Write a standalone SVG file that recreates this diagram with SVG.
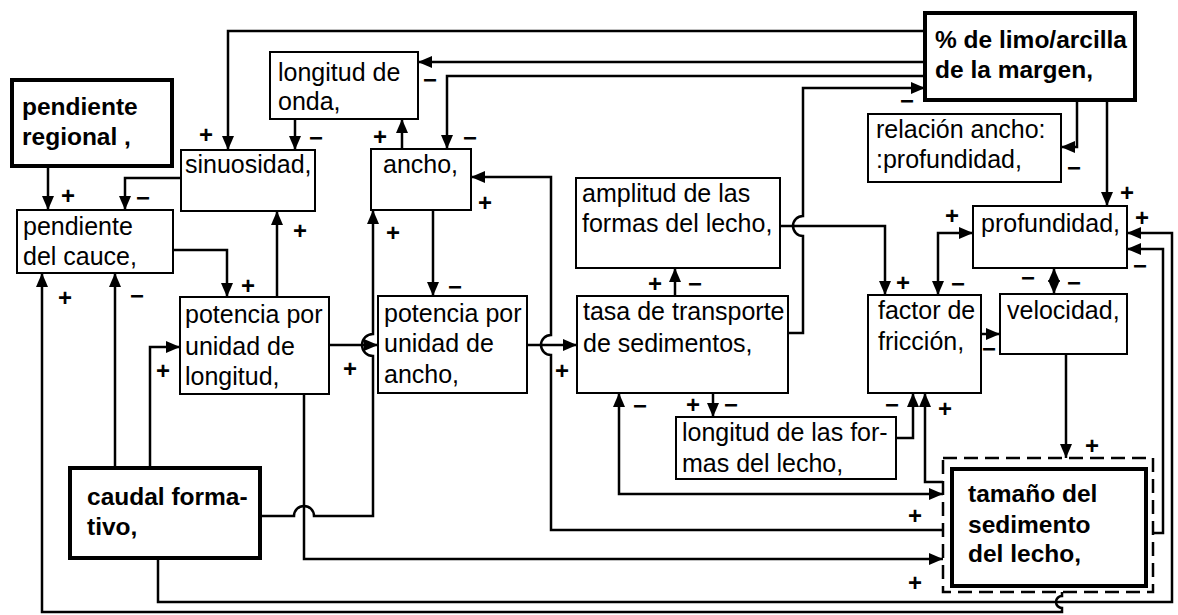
<svg xmlns="http://www.w3.org/2000/svg" width="1178" height="615" viewBox="0 0 1178 615">
<defs>
<marker id="ah" viewBox="0 0 14 12" refX="14" refY="6" markerWidth="14" markerHeight="12" markerUnits="userSpaceOnUse" orient="auto-start-reverse">
<path d="M0,0 L14,6 L0,12 z" fill="#000"/>
</marker>
<style>
.box{fill:#fff;stroke:#000;stroke-width:2}
.bold{stroke-width:4}
.dash{fill:none;stroke:#000;stroke-width:2.5;stroke-dasharray:14 7}
.t{font-family:"Liberation Sans",Arial,sans-serif;font-size:25px;fill:#000}
.tb{font-family:"Liberation Sans",Arial,sans-serif;font-size:24.5px;font-weight:bold;fill:#000}
.c{fill:none;stroke:#000;stroke-width:2.5}
.a{marker-end:url(#ah)}
.ab{marker-start:url(#ah);marker-end:url(#ah)}
.s{font-family:"Liberation Sans",Arial,sans-serif;font-size:24px;font-weight:bold;text-anchor:middle;dominant-baseline:central;fill:#000}
</style>
</defs>
<rect width="1178" height="615" fill="#fff"/>
<g id="connectors">
<path class="c a" d="M925,31 H228 V150"/>
<path class="c a" d="M925,62 H418"/>
<path class="c a" d="M925,76 H447 V149"/>
<path class="c a" d="M788,333 H803 V236 A10,10 0 0,1 803,216 V88 H925"/>
<path class="c a" d="M780,226 H885 V295"/>
<path class="c a" d="M1077,100 V147 H1061"/>
<path class="c a" d="M1107,100 V206"/>
<path class="c a" d="M48,166 V210"/>
<path class="c a" d="M181,178 H125 V210"/>
<path class="c a" d="M295,119 V150"/>
<path class="c a" d="M402,149 V119"/>
<path class="c a" d="M173,250 H227 V297"/>
<path class="c a" d="M277,297 V211"/>
<path class="c a" d="M943,530 H551 V355 A10,10 0 0,1 551,335 V177 H471"/>
<path class="c a" d="M433,210 V296"/>
<path class="c a" d="M329,345 H378"/>
<path class="c a" d="M260,516 H294 A10,10 0 0,1 314,516 H373 V356 A11,11 0 0,1 373,334 V210"/>
<path class="c a" d="M115,468 V273"/>
<path class="c a" d="M150,468 V347 H180"/>
<path class="c a" d="M304,394 V559 H943"/>
<path class="c a" d="M527,345 H577"/>
<path class="c a" d="M675,296 V268"/>
<path class="c a" d="M713,393 V417"/>
<path class="c ab" d="M619,393 V494 H943"/>
<path class="c a" d="M896,438 H913 V393"/>
<path class="c a" d="M943,482 H925 V393"/>
<path class="c a" d="M981,334 H1000"/>
<path class="c ab" d="M973,233 H938 V295"/>
<path class="c ab" d="M1054,268 V294"/>
<path class="c a" d="M1066,354 V458"/>
<path class="c a" d="M1153,533 H1163 V249 H1127"/>
<path class="c a" d="M158,558 V602 H1172 V233 H1127"/>
<path class="c a" d="M1062,592 V596 A6,6 0 0,0 1062,608 V612 H42 V273"/>
<text class="s" x="206" y="134">+</text>
<text class="s" x="316" y="137">−</text>
<text class="s" x="380" y="136">+</text>
<text class="s" x="430" y="79">−</text>
<text class="s" x="470" y="137">−</text>
<text class="s" x="485" y="202">+</text>
<text class="s" x="907" y="100">−</text>
<text class="s" x="1074" y="167">−</text>
<text class="s" x="1127" y="192">+</text>
<text class="s" x="68" y="195">+</text>
<text class="s" x="143" y="197">−</text>
<text class="s" x="65" y="297">+</text>
<text class="s" x="137" y="295">−</text>
<text class="s" x="248" y="285">+</text>
<text class="s" x="300" y="230">+</text>
<text class="s" x="163" y="370">+</text>
<text class="s" x="350" y="368">+</text>
<text class="s" x="393" y="232">+</text>
<text class="s" x="455" y="286">−</text>
<text class="s" x="562" y="370">+</text>
<text class="s" x="655" y="283">+</text>
<text class="s" x="695" y="283">−</text>
<text class="s" x="640" y="405">−</text>
<text class="s" x="693" y="404">+</text>
<text class="s" x="731" y="404">−</text>
<text class="s" x="892" y="404">−</text>
<text class="s" x="945" y="408">+</text>
<text class="s" x="903" y="282">+</text>
<text class="s" x="952" y="215">+</text>
<text class="s" x="958" y="283">−</text>
<text class="s" x="1028" y="277">−</text>
<text class="s" x="1074" y="282">−</text>
<text class="s" x="989" y="348">−</text>
<text class="s" x="1142" y="217">+</text>
<text class="s" x="1140" y="265">−</text>
<text class="s" x="1092" y="445">+</text>
<text class="s" x="915" y="515">+</text>
<text class="s" x="915" y="582">+</text>
</g>
<g id="pendiente-regional">
<rect class="box bold" x="12" y="80" width="160" height="86"/>
<text class="tb" x="22" y="115">pendiente</text>
<text class="tb" x="22" y="145">regional ,</text>
</g>
<g id="sinuosidad">
<rect class="box" x="181" y="150" width="134" height="61"/>
<text class="t" x="185" y="173">sinuosidad,</text>
</g>
<g id="longitud-onda">
<rect class="box" x="270" y="52" width="148" height="67"/>
<text class="t" x="278" y="81">longitud de</text>
<text class="t" x="278" y="110">onda,</text>
</g>
<g id="ancho">
<rect class="box" x="371" y="149" width="100" height="61"/>
<text class="t" x="383" y="173">ancho,</text>
</g>
<g id="limo-arcilla">
<rect class="box bold" x="925" y="13" width="210" height="87"/>
<text class="tb" x="935" y="48">% de limo/arcilla</text>
<text class="tb" x="935" y="78">de la margen,</text>
</g>
<g id="relacion-ancho-profundidad">
<rect class="box" x="868" y="114" width="193" height="68"/>
<text class="t" x="876" y="138">relación ancho:</text>
<text class="t" x="876" y="168">:profundidad,</text>
</g>
<g id="pendiente-cauce">
<rect class="box" x="17" y="210" width="156" height="63"/>
<text class="t" x="23" y="235">pendiente</text>
<text class="t" x="23" y="265">del cauce,</text>
</g>
<g id="potencia-longitud">
<rect class="box" x="180" y="297" width="149" height="97"/>
<text class="t" x="185" y="323">potencia por</text>
<text class="t" x="185" y="355">unidad de</text>
<text class="t" x="185" y="385">longitud,</text>
</g>
<g id="potencia-ancho">
<rect class="box" x="378" y="296" width="149" height="97"/>
<text class="t" x="384" y="322">potencia por</text>
<text class="t" x="384" y="352">unidad de</text>
<text class="t" x="384" y="383">ancho,</text>
</g>
<g id="amplitud-formas">
<rect class="box" x="576" y="178" width="204" height="90"/>
<text class="t" x="582" y="202">amplitud de las</text>
<text class="t" x="582" y="232">formas del lecho,</text>
</g>
<g id="tasa-transporte">
<rect class="box" x="577" y="296" width="211" height="97"/>
<text class="t" x="583" y="320">tasa de transporte</text>
<text class="t" x="583" y="352">de sedimentos,</text>
</g>
<g id="profundidad">
<rect class="box" x="973" y="206" width="154" height="62"/>
<text class="t" x="981" y="232">profundidad,</text>
</g>
<g id="factor-friccion">
<rect class="box" x="868" y="295" width="113" height="98"/>
<text class="t" x="878" y="319">factor de</text>
<text class="t" x="878" y="350">fricción,</text>
</g>
<g id="velocidad">
<rect class="box" x="1000" y="294" width="127" height="60"/>
<text class="t" x="1007" y="319">velocidad,</text>
</g>
<g id="longitud-formas">
<rect class="box" x="676" y="417" width="220" height="62"/>
<text class="t" x="682" y="441">longitud de las for-</text>
<text class="t" x="682" y="472">mas del lecho,</text>
</g>
<g id="caudal-formativo">
<rect class="box bold" x="70" y="468" width="190" height="90"/>
<text class="tb" x="87" y="505">caudal forma-</text>
<text class="tb" x="87" y="535">tivo,</text>
</g>
<g id="tamano-sedimento">
<rect class="dash" x="943" y="458" width="210" height="134"/>
<rect class="box bold" x="952" y="469" width="194" height="117"/>
<text class="tb" x="968" y="502">tamaño del</text>
<text class="tb" x="968" y="533">sedimento</text>
<text class="tb" x="968" y="562">del lecho,</text>
</g>
</svg>
